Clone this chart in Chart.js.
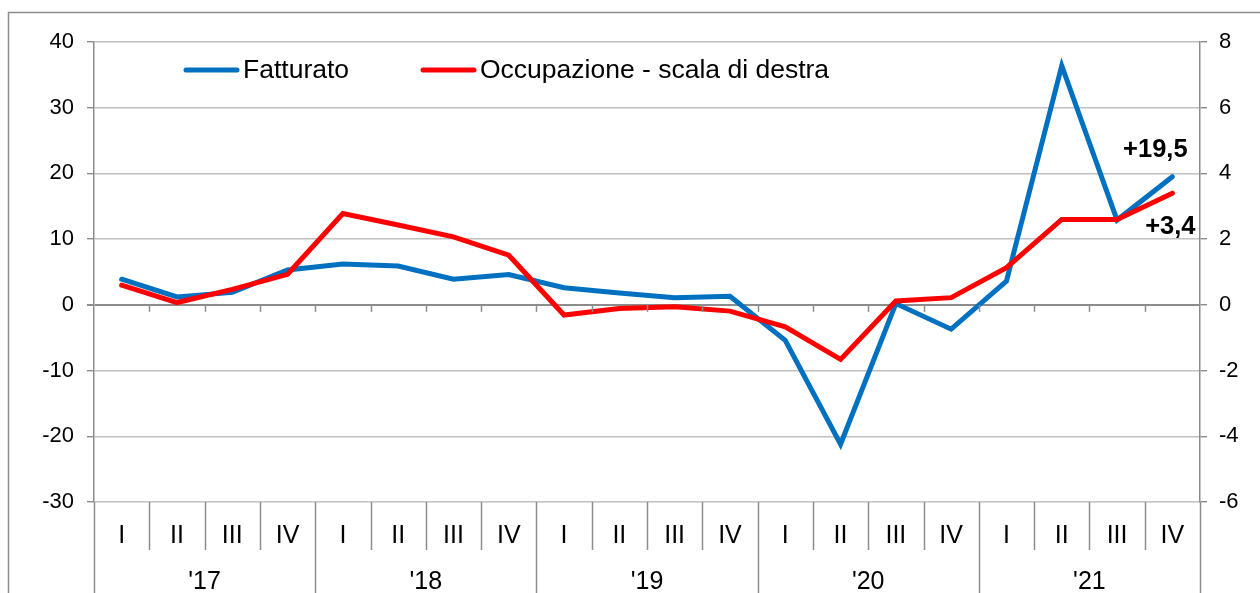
<!DOCTYPE html>
<html>
<head>
<meta charset="utf-8">
<script src="https://cdn.jsdelivr.net/npm/chart.js@4/dist/chart.umd.min.js"></script>
<style>
  html, body { margin:0; padding:0; background:#fff; overflow:hidden; }
</style>
</head>
<body>
<canvas id="ch" width="1260" height="593"></canvas>
<script>
// ── data ────────────────────────────────────────────────────────────────
const quarters = ['I','II','III','IV','I','II','III','IV','I','II','III','IV','I','II','III','IV','I','II','III','IV'];
const years = ["'17","'18","'19","'20","'21"];
const fatturato   = [3.9, 1.2, 1.9, 5.3, 6.2, 5.9, 3.9, 4.6, 2.6, 1.8, 1.1, 1.3, -5.4, -21.2, 0.2, -3.7, 3.6, 36.4, 12.9, 19.5];
const occupazione = [0.6, 0.07, 0.47, 0.93, 2.78, 2.43, 2.07, 1.51, -0.31, -0.11, -0.06, -0.19, -0.67, -1.66, 0.12, 0.22, 1.13, 2.6, 2.6, 3.4];
const leftRange  = { min:-30, max:40, step:10 };
const rightRange = { min:-6,  max:8,  step:2 };

const FONT = '"Liberation Sans", Arial, sans-serif';
const AXIS = '#8c8c8c';
const GRID = '#c0c0c0';

const fmt = v => (v > 0 ? '+' : '') + v.toFixed(1).replace('.', ',');

// frame, legend, multi-level category axis, end labels
const decor = {
  id: 'decor',
  beforeDraw(chart) {
    const c = chart.ctx;
    c.save();
    c.strokeStyle = AXIS; c.lineWidth = 1.5;
    c.beginPath();
    c.moveTo(8.5, chart.height); c.lineTo(8.5, 12.5); c.lineTo(chart.width, 12.5);
    c.stroke();
    c.restore();
  },
  afterDraw(chart) {
    const c = chart.ctx, x = chart.scales.x, y = chart.scales.y;
    const area = chart.chartArea;
    const step = x.getPixelForValue(1) - x.getPixelForValue(0);
    const y0 = y.getPixelForValue(0);
    c.save();
    c.strokeStyle = AXIS; c.lineWidth = 1.5;
    for (let i = 0; i <= quarters.length; i++) {
      const bx = Math.round(x.getPixelForValue(i) - step / 2) + 0.5;
      const isYear = i % 4 === 0;
      c.beginPath();
      c.moveTo(bx, area.bottom);
      c.lineTo(bx, isYear ? chart.height : area.bottom + 48);
      c.stroke();
      if (i > 0 && i < quarters.length) {
        c.beginPath(); c.moveTo(bx, y0); c.lineTo(bx, y0 + 7); c.stroke();
      }
    }
    c.fillStyle = '#000';
    c.font = '25px ' + FONT;
    c.textAlign = 'center'; c.textBaseline = 'middle';
    years.forEach((yr, k) => {
      const cx = (x.getPixelForValue(k * 4) + x.getPixelForValue(k * 4 + 3)) / 2;
      c.fillText(yr, cx, 582);
    });

    // legend
    c.font = '26.5px ' + FONT;
    c.textAlign = 'left';
    c.lineCap = 'round';
    const legendPos = [{ x1:186, x2:237 }, { x1:423, x2:474 }];
    chart.data.datasets.forEach((ds, i) => {
      const p = legendPos[i];
      c.strokeStyle = ds.borderColor; c.lineWidth = 5;
      c.beginPath(); c.moveTo(p.x1, 70); c.lineTo(p.x2, 70); c.stroke();
      c.fillText(ds.label, p.x2 + 6, 71);
    });

    // end labels
    c.font = 'bold 25.5px ' + FONT;
    c.textAlign = 'center';
    const offs = [{ dx:-17, dy:-27 }, { dx:-2, dy:34 }];
    chart.data.datasets.forEach((ds, i) => {
      const pts = chart.getDatasetMeta(i).data;
      const last = pts[pts.length - 1];
      c.fillText(fmt(ds.data[ds.data.length - 1]), last.x + offs[i].dx, last.y + offs[i].dy);
    });
    c.restore();
  }
};

new Chart(document.getElementById('ch').getContext('2d'), {
  type: 'line',
  data: {
    labels: quarters,
    datasets: [
      { label:'Fatturato', data: fatturato, yAxisID:'y', borderColor:'#0070C0', backgroundColor:'#0070C0', borderWidth:5, pointRadius:0, tension:0, order:1, borderCapStyle:'round' },
      { label:'Occupazione - scala di destra', data: occupazione, yAxisID:'y1', borderColor:'#FF0000', backgroundColor:'#FF0000', borderWidth:5, pointRadius:0, tension:0, order:0, borderCapStyle:'round' },
    ]
  },
  options: {
    responsive: false, animation: false, devicePixelRatio: 1,
    layout: { padding: { top:42, left:0, right:0, bottom:0 } },
    plugins: { legend: { display:false }, tooltip: { enabled:false } },
    scales: {
      x: {
        offset: true,
        grid: { display:false },
        border: { display:false },
        ticks: { color:'#000', font:{ family:FONT, size:25 }, padding:11, maxRotation:0, autoSkip:false },
        afterFit(s) { s.height = 91; }
      },
      y: {
        position: 'left',
        min: leftRange.min, max: leftRange.max,
        ticks: { stepSize: leftRange.step, color:'#000', font:{ family:FONT, size:22 }, padding:13 },
        grid: {
          color: ctx => ctx.tick && ctx.tick.value === 0 ? AXIS : GRID,
          lineWidth: ctx => ctx.tick && ctx.tick.value === 0 ? 2 : 1.4,
          tickColor: AXIS, tickLength: 7
        },
        border: { color: AXIS, width: 1.5 },
        afterFit(s) { s.width = 94; }
      },
      y1: {
        position: 'right',
        min: rightRange.min, max: rightRange.max,
        ticks: { stepSize: rightRange.step, color:'#000', font:{ family:FONT, size:22 }, padding:12 },
        grid: { drawOnChartArea:false, tickColor: AXIS, tickLength: 7, lineWidth:1.4 },
        border: { color: AXIS, width: 1.5 },
        afterFit(s) { s.width = 60; }
      }
    }
  },
  plugins: [decor]
});
</script>
</body>
</html>
